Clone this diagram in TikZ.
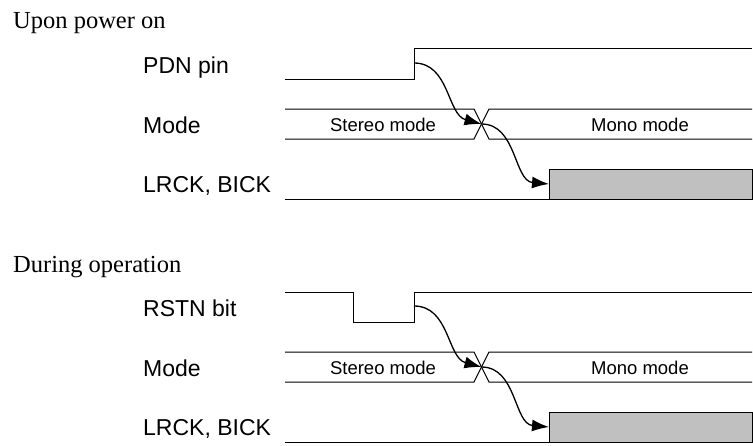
\documentclass[tikz,border=0pt]{standalone}
\usepackage{fontspec}
\setmainfont{Liberation Serif}
\setsansfont{Liberation Sans}
\usetikzlibrary{arrows.meta}
\definecolor{busygray}{RGB}{192,192,192}

\begin{document}
\begin{tikzpicture}[x=1pt,y=-1pt,line join=miter,>={Latex[length=17pt,width=12pt]},
  every node/.style={inner sep=0pt},
  heading/.style={anchor=base west,font=\fontsize{24.5}{28}\selectfont},
  sig/.style={anchor=base west,font=\sffamily\fontsize{23}{26}\selectfont},
  state/.style={anchor=base,font=\sffamily\fontsize{18.5}{22}\selectfont},
  wave/.style={line width=1pt},
  cause/.style={->,line width=1.3pt}]
  \useasboundingbox (0,0) rectangle (753,445);
  \node[heading] (upon) at (13,28) {Upon power on};
  \node[heading] (during) at (13,272) {During operation};
  % top: PDN pin
  \node[sig] (pdn) at (143,73) {PDN pin};
  \draw[wave] (285,79) -- (414,79) -- (414,48) -- (752,48);
  \coordinate (edge0) at (414,63);
  % bottom: RSTN bit
  \node[sig] (rstn) at (143,316) {RSTN bit};
  \draw[wave] (285,292) -- (353,292) -- (353,322) -- (414,322) -- (414,292) -- (752,292);
  \coordinate (edge1) at (414,306);
  % mode bus and clocks, both cases
  \foreach \i/\oy in {0/0,1/243}{
    \node[sig] (mode\i) at (143,{133+\oy}) {Mode};
    \node[sig] (clk\i) at (143,{192+\oy}) {LRCK, BICK};
    \draw[wave] (285,{109+\oy}) -- (474,{109+\oy}) -- (489,{139+\oy}) -- (752,{139+\oy});
    \draw[wave] (285,{139+\oy}) -- (474,{139+\oy}) -- (489,{109+\oy}) -- (752,{109+\oy});
    \node[state] (stereo\i) at (383,{131+\oy}) {Stereo mode};
    \node[state] (mono\i) at (640,{131+\oy}) {Mono mode};
    \draw[wave] (285,{199+\oy}) -- (549,{199+\oy});
    \draw[wave,fill=busygray] (549,{169+\oy}) rectangle (752,{199+\oy});
    \coordinate (cross\i) at (481.5,{124+\oy});
    \coordinate (busy\i) at (549,{184+\oy});
    \draw[cause] (edge\i) to[out=0,in=165] (cross\i);
    \draw[cause] (cross\i) to[out=0,in=175] (busy\i);
  }
\end{tikzpicture}
\end{document}
